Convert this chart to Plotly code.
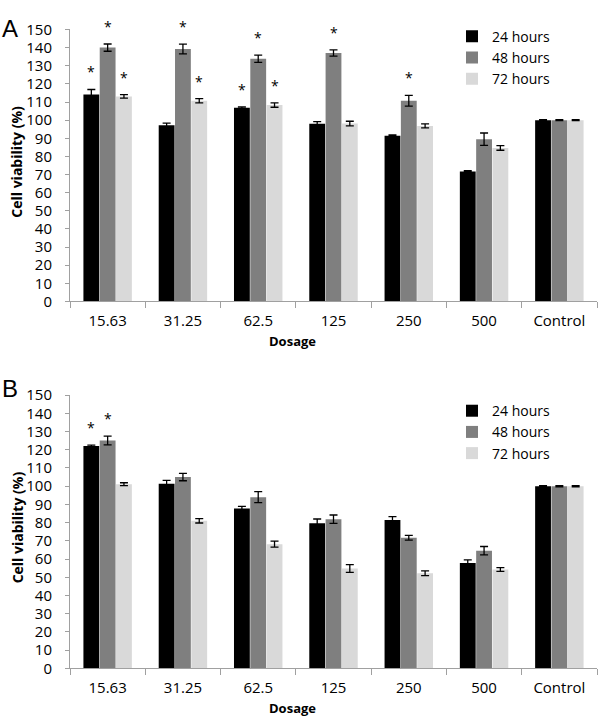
# cell viability bar charts (panels A and B)
import plotly.graph_objects as go
from plotly.subplots import make_subplots

dosage = ['15.63', '31.25', '62.5', '125', '250', '500', 'Control']
series = ['24 hours', '48 hours', '72 hours']
colors = ['#000000', '#7f7f7f', '#d9d9d9']

# panel A
a_24 = [114.2, 97.2, 106.9, 98.0, 91.4, 71.7, 100]
a_48 = [140.0, 139.2, 133.9, 137.0, 110.7, 89.5, 100]
a_72 = [113.1, 110.7, 108.3, 98.1, 96.8, 84.7, 100]
a_24_err = [2.7, 1.2, 0.4, 1.2, 0.4, 0.4, 0.3]
a_48_err = [2.0, 2.7, 2.0, 1.7, 3.0, 3.4, 0.3]
a_72_err = [1.0, 1.2, 1.2, 1.3, 1.1, 1.3, 0.3]
a_24_star = ['*', '', '*', '', '', '', '']
a_48_star = ['*', '*', '*', '*', '*', '', '']
a_72_star = ['*', '*', '*', '', '', '', '']

# panel B
b_24 = [122.1, 101.4, 87.7, 79.7, 81.5, 57.8, 100]
b_48 = [125.1, 105.0, 94.0, 81.9, 71.7, 64.6, 100]
b_72 = [101.1, 81.0, 68.2, 54.8, 52.2, 54.3, 100]
b_24_err = [0.4, 1.8, 1.2, 2.3, 1.8, 1.8, 0.3]
b_48_err = [2.4, 2.0, 3.0, 2.3, 1.3, 2.3, 0.3]
b_72_err = [0.8, 1.2, 1.6, 2.1, 1.3, 1.0, 0.3]
b_24_star = ['*', '', '', '', '', '', '']
b_48_star = ['*', '', '', '', '', '', '']
b_72_star = ['', '', '', '', '', '', '']

W, H = 600, 726
FONT = 'Open Sans'

panels = [
    ([a_24, a_48, a_72], [a_24_err, a_48_err, a_72_err], [a_24_star, a_48_star, a_72_star]),
    ([b_24, b_48, b_72], [b_24_err, b_48_err, b_72_err], [b_24_star, b_48_star, b_72_star]),
]

fig = make_subplots(rows=2, cols=1)
annotations = []

for p, (vals, errs, stars) in enumerate(panels):
    row = p + 1
    leg = 'legend' if p == 0 else 'legend2'
    xref = 'x' if p == 0 else 'x2'
    yref = 'y' if p == 0 else 'y2'
    for i in range(3):
        fig.add_trace(go.Bar(
            x=dosage, y=vals[i], name=series[i],
            marker=dict(color=colors[i], line=dict(width=0)),
            error_y=dict(type='data', array=errs[i], color='black',
                         thickness=1.3, width=4),
            legend=leg, offsetgroup=str(i),
        ), row=row, col=1)
        # significance stars above error bars
        shift = (i - 1) * 16.3
        for j, s in enumerate(stars[i]):
            if s:
                annotations.append(dict(
                    x=j, y=vals[i][j] + errs[i][j], xref=xref, yref=yref,
                    text=s, showarrow=False, xshift=shift, yshift=6,
                    yanchor='bottom', font=dict(size=14, color='black', family=FONT)))

# panel geometry in pixels
x0, x1 = 70, 597
pa = (19, 298.7)
pb = (395, 676)

def ydom(top, bot):
    return [1 - bot / H, 1 - top / H]

axis_common = dict(showline=True, linecolor='#a0a0a0', linewidth=1,
                   showgrid=False, zeroline=False, ticks='outside',
                   tickcolor='#a0a0a0', tickfont=dict(family=FONT, size=15, color='black'))

fig.update_xaxes(type='category', domain=[x0 / W, x1 / W], tickson='boundaries', ticklen=6,
                 ticklabelstandoff=6, tickangle=0, **axis_common)
fig.update_yaxes(range=[0, 150], dtick=10, ticklen=4, ticklabelstandoff=10,
                 **axis_common)
fig.update_yaxes(domain=ydom(*pa), row=1, col=1)
fig.update_yaxes(domain=ydom(*pb), row=2, col=1)

# axis titles and panel letters
for top, bot, letter, ly in [(pa[0], pa[1], 'A', 2), (pb[0], pb[1], 'B', 372)]:
    annotations.append(dict(x=292 / W, y=1 - (bot + 41) / H, xref='paper', yref='paper',
                            text='<b>Dosage</b>', showarrow=False,
                            xanchor='center', yanchor='middle',
                            font=dict(family=FONT, size=13, color='black')))
    annotations.append(dict(x=17 / W, y=1 - (top + 136) / H, xref='paper', yref='paper',
                            text='<b>Cell viability (%)</b>', textangle=-90, showarrow=False,
                            xanchor='center', yanchor='middle',
                            font=dict(family=FONT, size=14, color='black')))
    annotations.append(dict(x=0, y=1 - ly / H, xref='paper', yref='paper',
                            text=letter, showarrow=False, xanchor='left', yanchor='top',
                            font=dict(family='Liberation Sans', size=24, color='black')))

legend_common = dict(font=dict(family=FONT, size=14, color='black'),
                     bgcolor='rgba(0,0,0,0)', xanchor='left', yanchor='top',
                     itemclick=False, tracegroupgap=0)

fig.update_layout(
    width=W, height=H,
    margin=dict(l=0, r=0, t=0, b=0),
    paper_bgcolor='white', plot_bgcolor='white',
    barmode='group', bargap=0.35, bargroupgap=0.03,
    showlegend=True,
    legend=dict(x=452 / W, y=1 - 10 / H, **legend_common),
    legend2=dict(x=452 / W, y=1 - 395 / H, **legend_common),
    annotations=annotations,
)

# drop the default page margin so the figure sits at the window's corner
fig.write_html("out.html", config={'displayModeBar': False},
               post_script="document.body.style.margin='0';")
